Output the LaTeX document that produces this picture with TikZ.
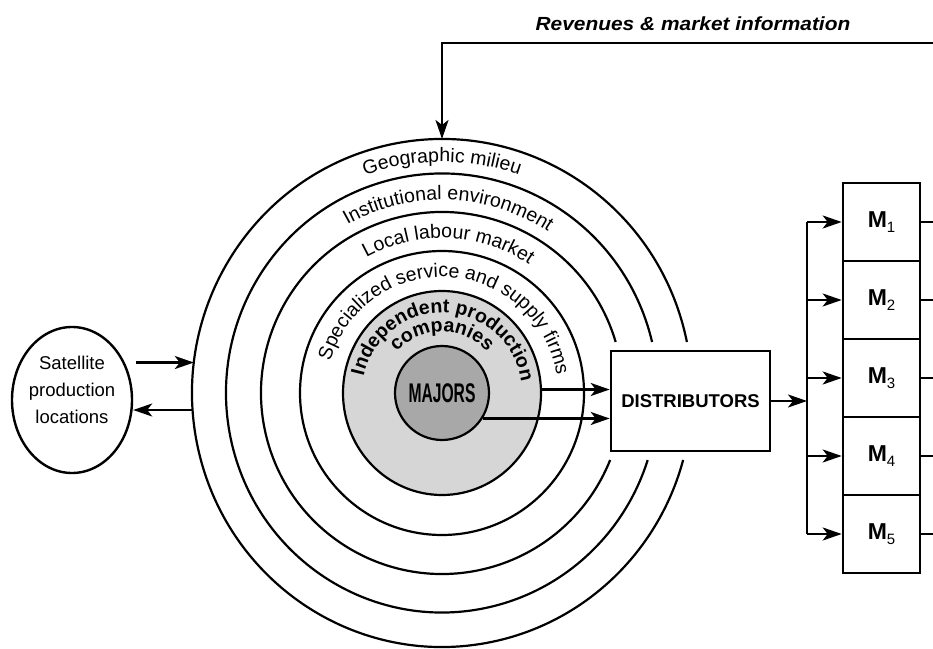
\documentclass[tikz,border=0pt]{standalone}
\usepackage{fontspec}
\setmainfont{Liberation Sans}
\usepackage{graphicx}
\usetikzlibrary{arrows.meta, shapes.geometric, decorations.text}

\definecolor{majgray}{gray}{0.66}
\definecolor{indgray}{gray}{0.84}
\newcommand\ringfont{\fontsize{19.5}{19.5}\selectfont}
\newcommand\ringbold{\fontsize{19.5}{19.5}\selectfont\bfseries}

\begin{document}
\begin{tikzpicture}[x=1pt, y=1pt,
  ring/.style={line width=2.2pt},
  arr/.style={line width=2.4pt, -{Stealth[length=19pt, width=13pt, inset=5pt]}},
  wire/.style={line width=2.4pt},
  box/.style={draw, line width=2.6pt, rectangle, inner sep=0pt},
  mbox/.style={box, minimum width=77pt, minimum height=78pt,
    font=\fontsize{23}{23}\selectfont\bfseries},
  ringtext/.style={decorate, decoration={text along path, text align=center, text={#1}}},
]
\useasboundingbox (0,0) rectangle (933,648);
\coordinate (C) at (442,255);
\coordinate (edge) at (933,0);

% outer rings, open on the right around the distributors box
\foreach \rx/\ry in {181/181, 216/219.5, 250/254}{
  \pgfmathsetmacro\ta{asin(51/\ry)}
  \pgfmathsetmacro\tb{360-asin(67/\ry)}
  \draw[ring] (C) ++({\rx*cos(\ta)},{\ry*sin(\ta)})
    arc[start angle=\ta, end angle=\tb, x radius=\rx, y radius=\ry];
}
% outline of the outermost ring, used as anchor for connectors
\node[ellipse, minimum width=500pt, minimum height=508pt, inner sep=0pt, outer sep=0pt] (geo) at (C) {};

% inner rings
\node[draw, ring, circle, minimum size=284pt, inner sep=0pt] (spec) at (C) {};
\node[draw, ring, ellipse, fill=indgray, minimum width=198pt, minimum height=204pt, inner sep=0pt] (ind) at (C) {};
\node[draw, ring, circle, fill=majgray, minimum size=94pt, inner sep=0pt,
  font=\fontsize{27}{27}\selectfont\bfseries] (maj) at (C) {\scalebox{0.58}[1]{MAJORS}};

% ring labels
\path[ringtext={|\ringfont|Geographic milieu}] (C) ++(170:231) arc[start angle=170, end angle=10, radius=231];
\path[ringtext={|\ringfont|Institutional environment}] (C) ++(168:193) arc[start angle=168, end angle=8, radius=193];
\path[ringtext={|\ringfont|Local labour market}] (C) ++(167.5:155) arc[start angle=167.5, end angle=7.5, radius=155];
\path[ringtext={|\ringfont|Specialized service and supply firms}] (C) ++(176.5:116) arc[start angle=176.5, end angle=-3.5, radius=116];
\path[ringtext={|\ringbold|Independent production}] (C) ++(178:80) arc[start angle=178, end angle=-2, radius=80];
\path[ringtext={|\ringbold|companies}] (C) ++(160:61) arc[start angle=160, end angle=20, radius=61];

% satellite locations (text block sits a little above the centre)
\node[draw, ellipse, line width=2.4pt, minimum width=120pt, minimum height=146pt, inner sep=0pt,
  font=\fontsize{18.5}{27}\selectfont] (sat) at (72,248)
  {\makebox[0pt]{\raisebox{4.5pt}[0pt][0pt]{\begin{tabular}{@{}c@{}}Satellite\\production\\locations\end{tabular}}}};
\draw[arr] ([xshift=3pt]sat.east |- geo.173.6) -- (geo.173.6);
\draw[arr] (geo.183.9 |- 0,238) -- (sat.east |- 0,238);

% distributors
\node[box, minimum width=159pt, minimum height=100pt,
  font=\fontsize{18.5}{18.5}\selectfont\bfseries] (dist) at (690.5,247) {DISTRIBUTORS};
\draw[arr] (ind.2) -- (ind.2 -| dist.west);
\draw[arr] (maj.-32) -- (maj.-32 -| dist.west);

% markets
\foreach \i/\y in {1/426,2/348,3/270,4/192,5/114}
  \node[mbox] (m\i) at (881.5,\y) {M\raisebox{-5pt}{\fontsize{15}{15}\selectfont\mdseries\i}};
\coordinate (bus) at (807,247);
\draw[arr] (dist.east) -- (dist.east -| bus);
\draw[wire] (bus |- m1) -- (bus |- m5);
\foreach \i in {1,...,5}{
  \draw[arr] (bus |- m\i) -- (m\i.west);
  \draw[wire] (m\i.east) -- (m\i.east -| edge);
}

% feedback to the region
\coordinate (fb) at (933,605);
\node[font=\fontsize{19}{19}\selectfont\bfseries\itshape] (rev) at (693,624)
  {\scalebox{1.1}[1]{Revenues \& market information}};
\draw[arr] (fb) -- (fb -| geo.north) -- (geo.north);
\end{tikzpicture}
\end{document}
